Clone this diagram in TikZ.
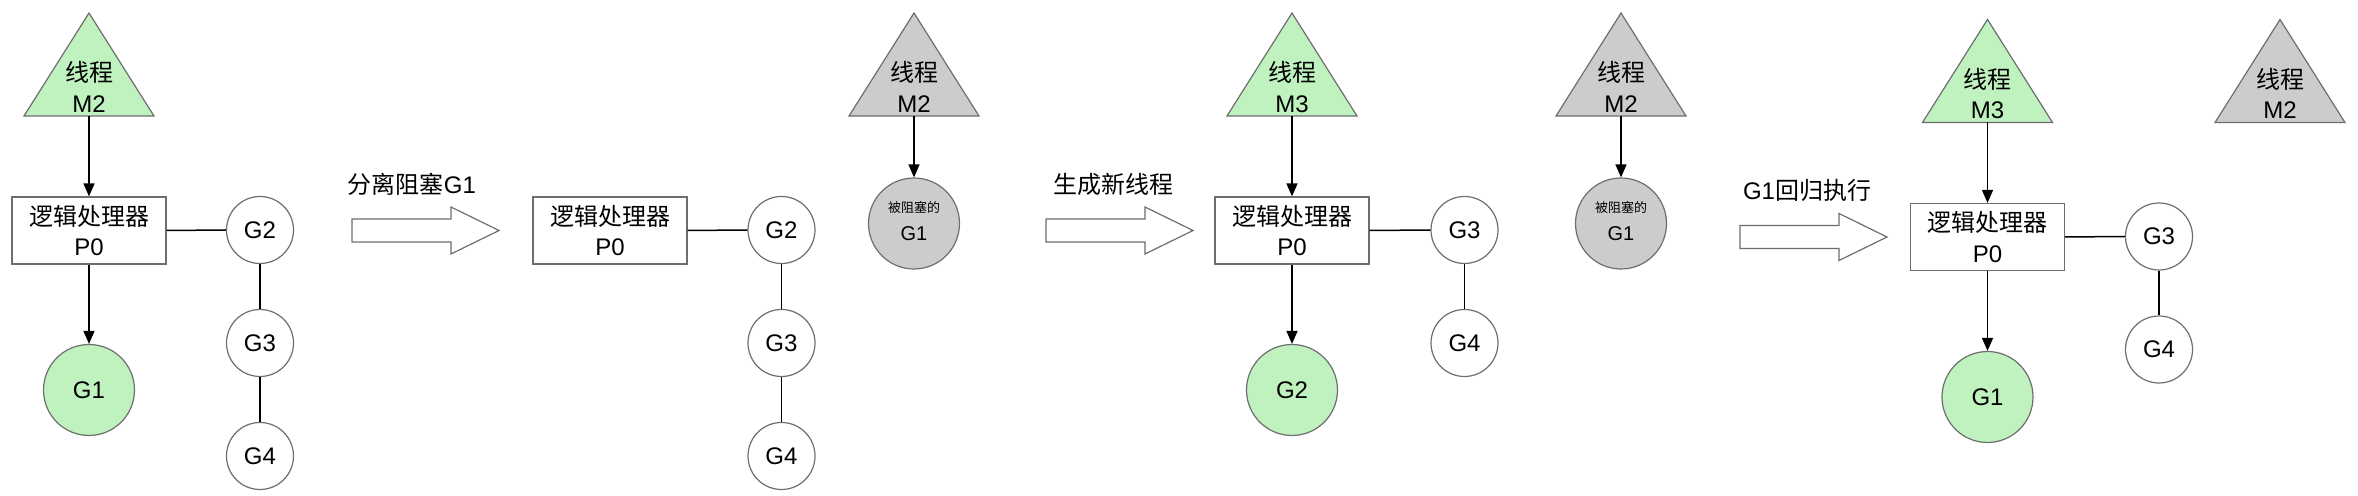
\documentclass[tikz,border=0pt]{standalone}
\usepackage{fontspec}
\setmainfont{Liberation Sans}
\newfontfamily\cjk{Noto Sans CJK SC}[Scale=1.0]
\usetikzlibrary{arrows.meta}
\definecolor{gfill}{HTML}{C0F2C0}
\definecolor{gyfill}{HTML}{CCCCCC}
\definecolor{edge}{HTML}{6E6E6E}
\begin{document}
\begin{tikzpicture}[x=0.5pt,y=-0.5pt,
  every node/.style={font=\fontsize{12}{15.2}\selectfont, align=center, inner sep=0pt},
  pbox/.style={draw=edge, line width=0.6pt, fill=white, minimum width=77pt, minimum height=33.5pt},
  gcirc/.style={circle, draw=edge, line width=0.6pt, fill=white, minimum size=33.5pt},
  bigg/.style={circle, draw=edge, line width=0.6pt, minimum size=45.5pt},
  tri/.style={draw=edge, line width=0.6pt, line join=miter},
  link/.style={line width=0.75pt},
  conn/.style={line width=0.75pt, -{Triangle[length=6.5pt,width=5.5pt]}},
  blockarrow/.style={draw=edge, line width=0.6pt, fill=white},
  pics/thread/.style={code={\draw[tri, fill=#1] (-65,103) -- (0,0) -- (65,103) -- cycle;}},
  pics/barrow/.style={code={\draw[blockarrow] (0,-11.5) -- (99,-11.5) -- (99,-23.5) -- (147,0) -- (99,23.5) -- (99,11.5) -- (0,11.5) -- cycle;}},
  ]
\useasboundingbox (0,0) rectangle (2358,496);
\fill[white] (0,0) rectangle (2358,496);

% ---------- Panel 1 ----------
\pic at (89,13) {thread=gfill};
\node (t1) at (89,87) {{\cjk 线程}\\M2};
\coordinate (t1b) at (89,116);
\node[pbox] (p1) at (89,230.5) {{\cjk 逻辑处理器}\\P0};
\node[gcirc] (a2) at (260,230) {G2};
\node[gcirc] (a3) at (260,343) {G3};
\node[gcirc] (a4) at (260,456) {G4};
\node[bigg, fill=gfill] (a1) at (89,390) {G1};
\draw[conn] (t1b) -- (p1.north);
\draw[conn] (p1.south) -- (a1.north);
\draw[link] (p1.east) -- (a2.west);
\draw[link] (a2.south) -- (a3.north);
\draw[link] (a3.south) -- (a4.north);

\node (lab1) at (412,184) {{\cjk 分离阻塞}G1};
\pic at (352,230.5) {barrow};

% ---------- Panel 2 ----------
\node[pbox] (p2) at (610,230.5) {{\cjk 逻辑处理器}\\P0};
\node[gcirc] (b2) at (781.5,230) {G2};
\node[gcirc] (b3) at (781.5,343) {G3};
\node[gcirc] (b4) at (781.5,456) {G4};
\draw[link] (p2.east) -- (b2.west);
\draw[link] (b2.south) -- (b3.north);
\draw[link] (b3.south) -- (b4.north);
\pic at (914,13) {thread=gyfill};
\node (t2) at (914,87) {{\cjk 线程}\\M2};
\coordinate (t2b) at (914,116);
\node[bigg, fill=gyfill] (b1) at (914,223.5) {};
\node (b1s) at (914,208) {\fontsize{6.5}{8}\selectfont\cjk 被阻塞的};
\node (b1t) at (914,233.5) {\fontsize{10}{12}\selectfont G1};
\draw[conn] (t2b) -- (b1.north);

\node (lab2) at (1113,184) {\cjk 生成新线程};
\pic at (1046,230.5) {barrow};

% ---------- Panel 3 ----------
\pic at (1292,13) {thread=gfill};
\node (t3) at (1292,87) {{\cjk 线程}\\M3};
\coordinate (t3b) at (1292,116);
\node[pbox] (p3) at (1292,230.5) {{\cjk 逻辑处理器}\\P0};
\node[gcirc] (c3) at (1464.5,230) {G3};
\node[gcirc] (c4) at (1464.5,343) {G4};
\node[bigg, fill=gfill] (c2) at (1292,390) {G2};
\draw[conn] (t3b) -- (p3.north);
\draw[conn] (p3.south) -- (c2.north);
\draw[link] (p3.east) -- (c3.west);
\draw[link] (c3.south) -- (c4.north);
\pic at (1621,13) {thread=gyfill};
\node (t3g) at (1621,87) {{\cjk 线程}\\M2};
\coordinate (t3gb) at (1621,116);
\node[bigg, fill=gyfill] (c1) at (1621,223.5) {};
\node (c1s) at (1621,208) {\fontsize{6.5}{8}\selectfont\cjk 被阻塞的};
\node (c1t) at (1621,233.5) {\fontsize{10}{12}\selectfont G1};
\draw[conn] (t3gb) -- (c1.north);

\node (lab3) at (1807,190) {G1{\cjk 回归执行}};
\pic at (1740,237) {barrow};

% ---------- Panel 4 ----------
\pic at (1987.5,19.5) {thread=gfill};
\node (t4) at (1987.5,93.5) {{\cjk 线程}\\M3};
\coordinate (t4b) at (1987.5,122.5);
\node[pbox] (p4) at (1987.5,237) {{\cjk 逻辑处理器}\\P0};
\node[gcirc] (d3) at (2159,236.5) {G3};
\node[gcirc] (d4) at (2159,349.5) {G4};
\node[bigg, fill=gfill] (d1) at (1987.5,397) {G1};
\draw[conn] (t4b) -- (p4.north);
\draw[conn] (p4.south) -- (d1.north);
\draw[link] (p4.east) -- (d3.west);
\draw[link] (d3.south) -- (d4.north);
\pic at (2280,19.5) {thread=gyfill};
\node (t4g) at (2280,93.5) {{\cjk 线程}\\M2};
\end{tikzpicture}
\end{document}
